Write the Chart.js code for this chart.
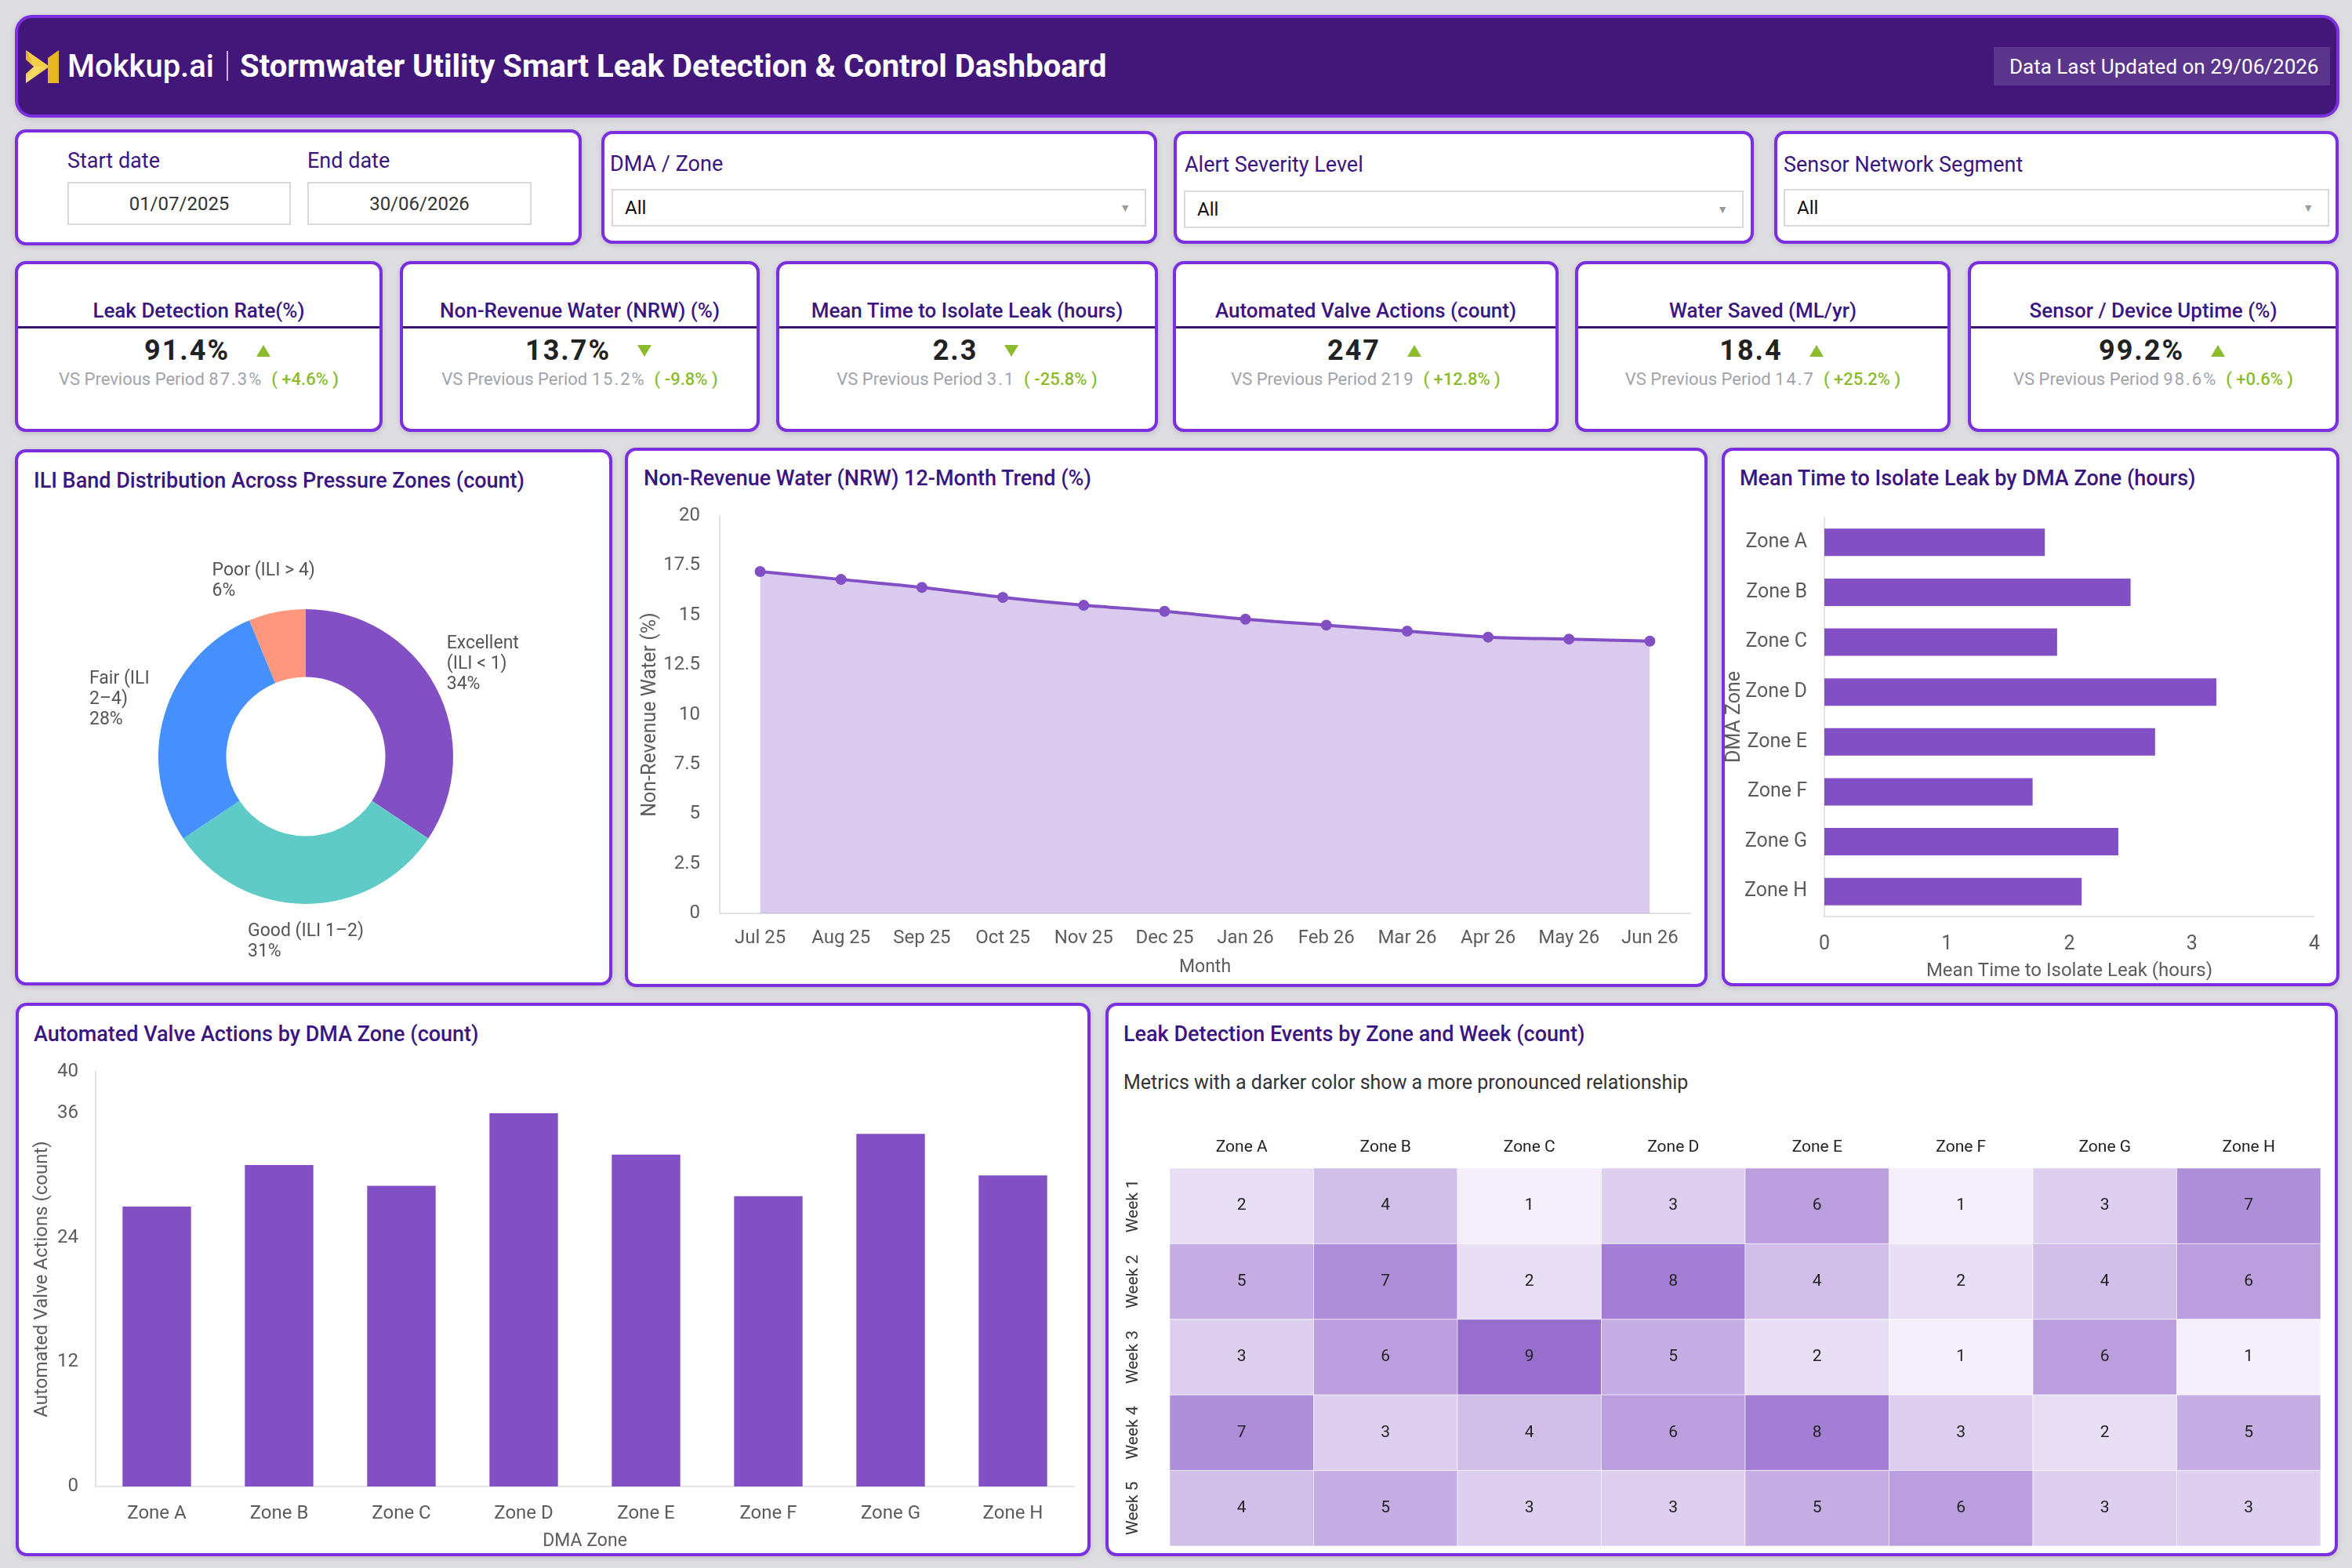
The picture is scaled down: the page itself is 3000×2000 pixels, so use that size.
<!DOCTYPE html>
<html>
<head>
<meta charset="utf-8">
<script src="https://cdn.jsdelivr.net/npm/chart.js@4.4.1/dist/chart.umd.min.js"></script>
<style>
  body { margin: 0; width: 3000px; height: 2000px; background: #dddce1; font-family: Roboto, "Noto Sans", sans-serif; position: relative; overflow: hidden; }
  .abs { position: absolute; }
  .card { position: absolute; box-sizing: border-box; background: #fff; border: 4px solid #7c2fe0; border-radius: 14px; box-shadow: 0 2px 6px rgba(0,0,0,0.12); }
  .t { position: absolute; white-space: nowrap; line-height: 1; transform: translateY(-50%); }
  .ctitle { font-size: 27px; font-weight: 500; color: #3c1680; }
  .flabel { font-size: 27px; color: #3c1680; }
  .inp { position: absolute; box-sizing: border-box; border: 2px solid #d9d9d9; background: #fff; font-size: 24px; color: #333; display: flex; align-items: center; }
  .kpi-title { position: absolute; left: 0; right: 0; text-align: center; font-size: 26px; font-weight: 500; color: #3c1680; line-height: 1; transform: translateY(-50%); white-space: nowrap; }
  .kpi-line { position: absolute; left: 0; right: 0; height: 3px; background: #3a1670; }
  .kpi-val { position: absolute; left: 0; right: 0; display: flex; justify-content: center; align-items: center; transform: translateY(-50%); padding-left: 22px; box-sizing: border-box; }
  .kpi-val b { font-size: 36px; font-weight: 700; color: #222; letter-spacing: 2px; line-height: 1; }
  .tri { width: 0; height: 0; margin-left: 34px; border-left: 9px solid transparent; border-right: 9px solid transparent; }
  .tri.up { border-bottom: 15px solid #8cbb2e; }
  .tri.down { border-top: 15px solid #8cbb2e; }
  .kpi-sub { position: absolute; left: 0; right: 0; text-align: center; font-size: 22px; color: #a3a3ab; line-height: 1; transform: translateY(-50%); white-space: nowrap; }
  .kpi-sub .n { letter-spacing: 2px; }
  .kpi-sub .g { color: #8cbb2e; font-weight: 500; }
  canvas { position: absolute; }
</style>
</head>
<body>

<!-- header -->
<div class="card" style="left:19px;top:19px;width:2965px;height:131px;background:#43177a;border-radius:22px;"></div>
<svg class="abs" style="left:33px;top:64px" width="42" height="42" viewBox="0 0 42 42">
  <defs>
    <linearGradient id="gold" x1="0" y1="0" x2="1" y2="1">
      <stop offset="0" stop-color="#d9a514"/><stop offset="0.5" stop-color="#f7dc6a"/><stop offset="1" stop-color="#e2ae1a"/>
    </linearGradient>
  </defs>
  <polygon points="0,0 30,21 0,42 0,30 10,21 0,12" fill="url(#gold)"/>
  <polygon points="0,0 30,21 12,21" fill="#f3cf4a"/>
  <polygon points="28,10 42,0 42,42 28,42" fill="#e8b620"/>
</svg>
<div class="t" style="left:86px;top:85px;font-size:40px;font-weight:500;color:#fff;">Mokkup.ai</div>
<div class="abs" style="left:289px;top:65px;width:2px;height:38px;background:#cdb0e6;"></div>
<div class="t" style="left:306px;top:85px;font-size:40px;font-weight:700;color:#fff;">Stormwater Utility Smart Leak Detection &amp; Control Dashboard</div>
<div class="abs" style="left:2543px;top:60px;width:429px;height:49px;background:#5b358c;"></div>
<div class="t" style="left:2563px;top:85px;font-size:26px;color:#fff;">Data Last Updated on 29/06/2026</div>

<!-- filters -->
<div class="card" style="left:19px;top:165px;width:723px;height:148px;"></div>
<div class="t flabel" style="left:86px;top:205px;">Start date</div>
<div class="t flabel" style="left:392px;top:205px;">End date</div>
<div class="inp" style="left:86px;top:232px;width:285px;height:55px;justify-content:center;">01/07/2025</div>
<div class="inp" style="left:392px;top:232px;width:286px;height:55px;justify-content:center;">30/06/2026</div>

<div class="card" style="left:767px;top:167px;width:709px;height:144px;"></div>
<div class="t flabel" style="left:778px;top:209px;">DMA / Zone</div>
<div class="inp" style="left:780px;top:241px;width:682px;height:48px;padding-left:15px;color:#111;font-size:24px;">All<span style="position:absolute;right:18px;font-size:14px;color:#999;">▼</span></div>

<div class="card" style="left:1497px;top:167px;width:740px;height:144px;"></div>
<div class="t flabel" style="left:1511px;top:210px;">Alert Severity Level</div>
<div class="inp" style="left:1510px;top:243px;width:714px;height:48px;padding-left:15px;color:#111;font-size:24px;">All<span style="position:absolute;right:18px;font-size:14px;color:#999;">▼</span></div>

<div class="card" style="left:2263px;top:167px;width:720px;height:144px;"></div>
<div class="t flabel" style="left:2275px;top:210px;">Sensor Network Segment</div>
<div class="inp" style="left:2275px;top:241px;width:696px;height:48px;padding-left:15px;color:#111;font-size:24px;">All<span style="position:absolute;right:18px;font-size:14px;color:#999;">▼</span></div>

<div id="kpis"></div>

<!-- chart cards -->
<div class="card" style="left:19px;top:573px;width:762px;height:684px;"></div>
<div class="t ctitle" style="left:43px;top:613px;">ILI Band Distribution Across Pressure Zones (count)</div>
<div class="card" style="left:797px;top:571px;width:1381px;height:688px;"></div>
<div class="t ctitle" style="left:821px;top:610px;">Non-Revenue Water (NRW) 12-Month Trend (%)</div>
<div class="card" style="left:2196px;top:571px;width:788px;height:687px;"></div>
<div class="t ctitle" style="left:2219px;top:610px;">Mean Time to Isolate Leak by DMA Zone (hours)</div>
<div class="card" style="left:20px;top:1279px;width:1371px;height:706px;"></div>
<div class="t ctitle" style="left:43px;top:1319px;">Automated Valve Actions by DMA Zone (count)</div>
<div class="card" style="left:1410px;top:1279px;width:1572px;height:706px;"></div>
<div class="t ctitle" style="left:1433px;top:1319px;">Leak Detection Events by Zone and Week (count)</div>
<div class="t" style="left:1433px;top:1380px;font-size:25px;color:#333;">Metrics with a darker color show a more pronounced relationship</div>

<canvas id="donut" width="754" height="613" style="left:23px;top:640px;"></canvas>
<canvas id="trend" width="1374" height="625" style="left:800px;top:630px;"></canvas>
<canvas id="isolate" width="782" height="625" style="left:2198px;top:630px;"></canvas>
<canvas id="valves" width="1363" height="640" style="left:24px;top:1340px;"></canvas>
<canvas id="heat" width="1564" height="560" style="left:1414px;top:1420px;"></canvas>

<script>
// ---- data ----
const kpiTitles = ['Leak Detection Rate(%)', 'Non-Revenue Water (NRW) (%)', 'Mean Time to Isolate Leak (hours)', 'Automated Valve Actions (count)', 'Water Saved (ML/yr)', 'Sensor / Device Uptime (%)'];
const kpiValues = ['91.4%', '13.7%', '2.3', '247', '18.4', '99.2%'];
const kpiPrevious = ['87.3%', '15.2%', '3.1', '219', '14.7', '98.6%'];
const kpiChange = ['+4.6%', '-9.8%', '-25.8%', '+12.8%', '+25.2%', '+0.6%'];

const iliBands = [['Excellent', '(ILI < 1)'], ['Good (ILI 1–2)'], ['Fair (ILI', '2–4)'], ['Poor (ILI > 4)']];
const iliCounts = [11, 10, 9, 2];

const months = ['Jul 25', 'Aug 25', 'Sep 25', 'Oct 25', 'Nov 25', 'Dec 25', 'Jan 26', 'Feb 26', 'Mar 26', 'Apr 26', 'May 26', 'Jun 26'];
const nrwTrend = [17.2, 16.8, 16.4, 15.9, 15.5, 15.2, 14.8, 14.5, 14.2, 13.9, 13.8, 13.7];

const zones = ['Zone A', 'Zone B', 'Zone C', 'Zone D', 'Zone E', 'Zone F', 'Zone G', 'Zone H'];
const isolateHours = [1.8, 2.5, 1.9, 3.2, 2.7, 1.7, 2.4, 2.1];
const valveActions = [27, 31, 29, 36, 32, 28, 34, 30];
const valveTicks = [0, 12, 24, 36, 40];

const weeks = ['Week 1', 'Week 2', 'Week 3', 'Week 4', 'Week 5'];
const leakEvents = [
  [2, 4, 1, 3, 6, 1, 3, 7],
  [5, 7, 2, 8, 4, 2, 4, 6],
  [3, 6, 9, 5, 2, 1, 6, 1],
  [7, 3, 4, 6, 8, 3, 2, 5],
  [4, 5, 3, 3, 5, 6, 3, 3]
];

// ---- kpi cards ----
const kpiBoxes = [[19, 488], [510, 969], [990, 1477], [1496, 1988], [2009, 2488], [2510, 2983]];
const kpiHost = document.getElementById('kpis');
kpiTitles.forEach((title, i) => {
  const [l, r] = kpiBoxes[i];
  const dir = kpiChange[i].startsWith('-') ? 'down' : 'up';
  const card = document.createElement('div');
  card.className = 'card';
  card.style.cssText = `left:${l}px;top:333px;width:${r - l}px;height:218px;`;
  card.innerHTML = `
    <div class="kpi-title" style="top:59px">${title}</div>
    <div class="kpi-line" style="top:79px"></div>
    <div class="kpi-val" style="top:110px"><b>${kpiValues[i]}</b><span class="tri ${dir}"></span></div>
    <div class="kpi-sub" style="top:147px">VS Previous Period <span class="n">${kpiPrevious[i]}</span>&nbsp; <span class="g">( ${kpiChange[i]} )</span></div>`;
  kpiHost.appendChild(card);
});

// ---- chart defaults ----
Chart.defaults.font.family = 'Roboto';
Chart.defaults.color = '#5c5c5c';
Chart.defaults.animation = false;
Chart.defaults.plugins.legend.display = false;
Chart.defaults.plugins.tooltip.enabled = false;

const PURPLE = '#834fc4';
const AXIS = '#e3e3e3';

// fixed axis box sizes so the plot areas line up with the cards
function fixW(w) { return scale => { scale.width = w; scale.paddingTop = 0; scale.paddingBottom = 0; }; }
function fixH(h) { return scale => { scale.height = h; }; }

// ---- donut ----
const outsideLabels = {
  id: 'outsideLabels',
  afterDatasetsDraw(chart) {
    const ctx = chart.ctx;
    const meta = chart.getDatasetMeta(0);
    const total = iliCounts.reduce((a, b) => a + b, 0);
    const lh = 26;
    ctx.save();
    ctx.font = '23px Roboto';
    ctx.fillStyle = '#555';
    ctx.textAlign = 'left';
    ctx.textBaseline = 'middle';
    meta.data.forEach((arc, i) => {
      const mid = (arc.startAngle + arc.endAngle) / 2;
      const ux = Math.cos(mid), uy = Math.sin(mid);
      const r = arc.outerRadius + 22;
      const px = arc.x + ux * r, py = arc.y + uy * r;
      const lines = [...iliBands[i], Math.round(iliCounts[i] / total * 100) + '%'];
      const w = Math.max(...lines.map(s => ctx.measureText(s).width));
      const h = lines.length * lh;
      const left = px - w * (1 - ux) / 2;
      const top = py - h * (1 - uy) / 2 + (uy < -0.9 ? 8 : 0);
      lines.forEach((s, k) => ctx.fillText(s, left, top + lh * (k + 0.5)));
    });
    ctx.restore();
  }
};

new Chart(document.getElementById('donut'), {
  type: 'doughnut',
  data: {
    labels: iliBands,
    datasets: [{
      data: iliCounts,
      backgroundColor: ['#834fc4', '#5ecbc7', '#4590fe', '#fe977d'],
      borderWidth: 0
    }]
  },
  options: {
    responsive: false,
    cutout: '54%',
    layout: { padding: { left: 179, right: 199, top: 137, bottom: 100 } }
  },
  plugins: [outsideLabels]
});

// ---- NRW trend ----
new Chart(document.getElementById('trend'), {
  type: 'line',
  data: {
    labels: months,
    datasets: [{
      data: nrwTrend,
      borderColor: PURPLE,
      backgroundColor: 'rgba(131,79,196,0.3)',
      fill: 'origin',
      borderWidth: 4,
      tension: 0.3,
      pointRadius: 5,
      pointBackgroundColor: PURPLE,
      pointBorderColor: PURPLE
    }]
  },
  options: {
    responsive: false,
    layout: { padding: { top: 28, right: 18, left: 0, bottom: 0 } },
    scales: {
      x: {
        offset: true,
        grid: { display: false, drawTicks: false },
        border: { display: true, color: AXIS, width: 2 },
        ticks: { font: { size: 24 }, padding: 18, maxRotation: 0 },
        title: { display: true, text: 'Month', font: { size: 23 }, padding: { top: 0, bottom: 7 } },
        afterFit: fixH(90)
      },
      y: {
        min: 0, max: 20,
        grid: { display: false, drawTicks: false },
        border: { display: true, color: AXIS, width: 2 },
        ticks: { stepSize: 2.5, font: { size: 24 }, padding: 25 },
        title: { display: true, text: 'Non-Revenue Water (%)', font: { size: 25 }, padding: { top: 15, bottom: 0 } },
        afterFit: fixW(118)
      }
    }
  }
});

// ---- isolate time by zone ----
new Chart(document.getElementById('isolate'), {
  type: 'bar',
  data: {
    labels: zones,
    datasets: [{ data: isolateHours, backgroundColor: PURPLE, barPercentage: 0.55, categoryPercentage: 1 }]
  },
  options: {
    indexAxis: 'y',
    responsive: false,
    layout: { padding: { top: 30, right: 28, left: 0, bottom: 0 } },
    scales: {
      x: {
        min: 0, max: 4,
        grid: { display: false, drawTicks: false },
        border: { display: true, color: AXIS, width: 2 },
        ticks: { stepSize: 1, font: { size: 25 }, padding: 21 },
        title: { display: true, text: 'Mean Time to Isolate Leak (hours)', font: { size: 24 }, padding: { top: 0, bottom: 2 } },
        afterFit: fixH(86)
      },
      y: {
        grid: { display: false, drawTicks: false },
        border: { display: true, color: AXIS, width: 2 },
        ticks: { font: { size: 25 }, padding: 22 },
        title: { display: true, text: 'DMA Zone', font: { size: 25 }, padding: { top: 0, bottom: 0 } },
        afterFit: fixW(129)
      }
    }
  }
});

// ---- valve actions ----
new Chart(document.getElementById('valves'), {
  type: 'bar',
  data: {
    labels: zones,
    datasets: [{ data: valveActions, backgroundColor: PURPLE, barPercentage: 0.56, categoryPercentage: 1 }]
  },
  options: {
    responsive: false,
    layout: { padding: { top: 27, right: 17, left: 0, bottom: 0 } },
    scales: {
      x: {
        grid: { display: false, drawTicks: false },
        border: { display: true, color: AXIS, width: 2 },
        ticks: { font: { size: 24 }, padding: 21 },
        title: { display: true, text: 'DMA Zone', font: { size: 23 }, padding: { top: 0, bottom: 0 } },
        afterFit: fixH(84)
      },
      y: {
        min: 0, max: 40,
        grid: { display: false, drawTicks: false },
        border: { display: true, color: AXIS, width: 2 },
        ticks: { font: { size: 24 }, padding: 22 },
        afterBuildTicks: scale => { scale.ticks = valveTicks.map(v => ({ value: v })); },
        title: { display: true, text: 'Automated Valve Actions (count)', font: { size: 24 }, padding: { top: 16, bottom: 0 } },
        afterFit: fixW(98)
      }
    }
  }
});

// ---- leak events heatmap ----
const heatCells = {
  id: 'heatCells',
  afterDatasetsDraw(chart) {
    const { ctx, scales: { x, y } } = chart;
    const ds = chart.data.datasets[0];
    const meta = chart.getDatasetMeta(0);
    const cw = x.width / zones.length;
    const chh = y.height / weeks.length;
    ctx.save();
    meta.data.forEach((pt, i) => {
      const v = ds.data[i].v;
      ctx.fillStyle = `rgba(131,79,196,${(v * 0.092).toFixed(3)})`;
      ctx.fillRect(pt.x - cw / 2, pt.y - chh / 2, cw, chh);
      ctx.strokeStyle = 'rgba(255,255,255,0.55)';
      ctx.lineWidth = 1;
      ctx.strokeRect(pt.x - cw / 2, pt.y - chh / 2, cw, chh);
      ctx.fillStyle = '#222';
      ctx.font = '21px Roboto';
      ctx.textAlign = 'center';
      ctx.textBaseline = 'middle';
      ctx.fillText(String(v), pt.x, pt.y);
    });
    ctx.fillStyle = '#333';
    ctx.font = '21px Roboto';
    weeks.forEach((w, i) => {
      ctx.save();
      ctx.translate(x.left - 46, y.getPixelForValue(i));
      ctx.rotate(-Math.PI / 2);
      ctx.fillText(w, 0, 0);
      ctx.restore();
    });
    ctx.restore();
  }
};

new Chart(document.getElementById('heat'), {
  type: 'scatter',
  data: {
    datasets: [{
      data: weeks.flatMap((w, r) => zones.map((z, c) => ({ x: z, y: w, v: leakEvents[r][c] }))),
      pointRadius: 0
    }]
  },
  options: {
    responsive: false,
    layout: { padding: { top: 0, right: 18, left: 0, bottom: 8 } },
    scales: {
      x: {
        type: 'category', labels: zones, position: 'top', offset: true,
        grid: { display: false, drawTicks: false },
        border: { display: false },
        ticks: { font: { size: 21 }, color: '#222', padding: 14 },
        afterFit: fixH(70)
      },
      y: {
        type: 'category', labels: weeks, offset: true,
        grid: { display: false, drawTicks: false },
        border: { display: false },
        ticks: { display: false },
        afterFit: fixW(78)
      }
    }
  },
  plugins: [heatCells]
});
</script>
</body>
</html>
